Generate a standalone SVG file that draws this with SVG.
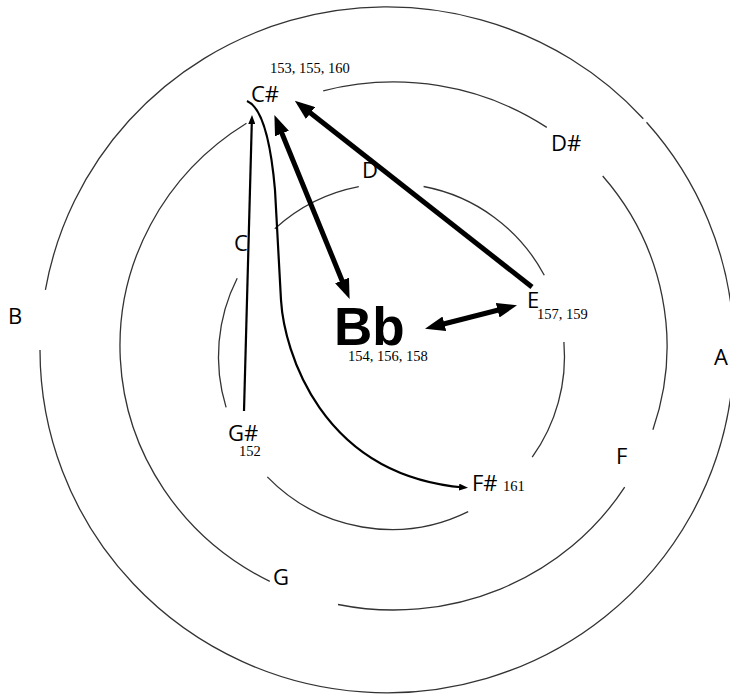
<svg xmlns="http://www.w3.org/2000/svg" width="730" height="695" viewBox="0 0 730 695">
<style>
.ring{fill:none;stroke:#333;stroke-width:1.3}
.lbl{font-family:"Open Sans","Noto Sans","DejaVu Sans",sans-serif;font-size:22px;fill:#000}
.num{font-family:"Liberation Serif","Times New Roman",serif;font-size:14.5px;fill:#000}
.big{font-family:"Liberation Sans",Arial,sans-serif;font-weight:bold;font-size:53px;fill:#000}
.thick{fill:none;stroke:#000;stroke-width:5}
.thin{fill:none;stroke:#000;stroke-width:2.2}
</style>
<defs>
<marker id="ah" viewBox="0 0 20 15" refX="11" refY="7.5" markerWidth="20" markerHeight="15" markerUnits="userSpaceOnUse" orient="auto-start-reverse">
<path d="M0,0 L20,7.5 L0,15 z" fill="#000"/>
</marker>
<marker id="sh" viewBox="0 0 9 7" refX="5" refY="3.5" markerWidth="9" markerHeight="7" markerUnits="userSpaceOnUse" orient="auto">
<path d="M0,0 L9,3.5 L0,7 z" fill="#000"/>
</marker>
</defs>
<rect width="730" height="695" fill="#fff"/>
<g id="rings">
<path class="ring" d="M646.5 122.3 A347 343 0 0 1 733.5 332.1"/>
<path class="ring" d="M730.6 397.7 A347 343 0 0 1 40 350"/>
<path class="ring" d="M45.4 289.8 A347 343 0 0 1 643.3 118.7"/>
<path class="ring" d="M323.2 90.9 A273.5 264 0 0 1 546.8 127.4"/>
<path class="ring" d="M602.7 176 A273.5 264 0 0 1 652.9 429.8"/>
<path class="ring" d="M624.7 487.1 A273.5 264 0 0 1 338 604.5"/>
<path class="ring" d="M269.8 581.4 A273.5 264 0 0 1 246.5 123.3"/>
<path class="ring" d="M274.8 228.7 A173 173 0 0 1 358.8 186.6"/>
<path class="ring" d="M423.6 186.5 A173 173 0 0 1 544.3 275.3"/>
<path class="ring" d="M563.9 342 A173 173 0 0 1 532.2 457.2"/>
<path class="ring" d="M468.2 511.6 A173 173 0 0 1 267.3 476.9"/>
<path class="ring" d="M226.1 407.4 A173 173 0 0 1 237.2 278.2"/>
</g>
<g id="node-Cs"><text class="lbl" x="251" y="102">C#</text><text class="num" x="270" y="73">153, 155, 160</text></g>
<g id="node-Ds"><text class="lbl" x="551" y="151">D#</text></g>
<g id="node-D"><text class="lbl" x="362" y="178">D</text></g>
<g id="node-C"><text class="lbl" x="234" y="251">C</text></g>
<g id="node-B"><text class="lbl" x="8" y="324">B</text></g>
<g id="node-A"><text class="lbl" x="714" y="365">A</text></g>
<g id="node-E"><text class="lbl" x="527" y="308">E</text><text class="num" x="537" y="319">157, 159</text></g>
<g id="node-Bb"><text class="big" x="334" y="345">Bb</text><text class="num" x="348" y="361">154, 156, 158</text></g>
<g id="node-Gs"><text class="lbl" x="228" y="441">G#</text><text class="num" x="239" y="456">152</text></g>
<g id="node-Fs"><text class="lbl" x="472" y="491">F#</text><text class="num" x="503" y="491">161</text></g>
<g id="node-F"><text class="lbl" x="616" y="464">F</text></g>
<g id="node-G"><text class="lbl" x="273" y="585">G</text></g>
<g id="connectors">
<path class="thin" d="M244 411 L251.9 119" marker-end="url(#sh)"/>
<path class="thin" d="M247 101 Q268 110 275 190 L281 300 C284 350 320 475 464 487.5" marker-end="url(#sh)"/>
<path class="thick" d="M277.8 123.3 L346.2 290.7" marker-start="url(#ah)" marker-end="url(#ah)"/>
<path class="thick" d="M532 287 L301.9 106.2" marker-end="url(#ah)"/>
<path class="thick" d="M433.7 326.5 L508.3 307.5" marker-start="url(#ah)" marker-end="url(#ah)"/>
</g>
</svg>
